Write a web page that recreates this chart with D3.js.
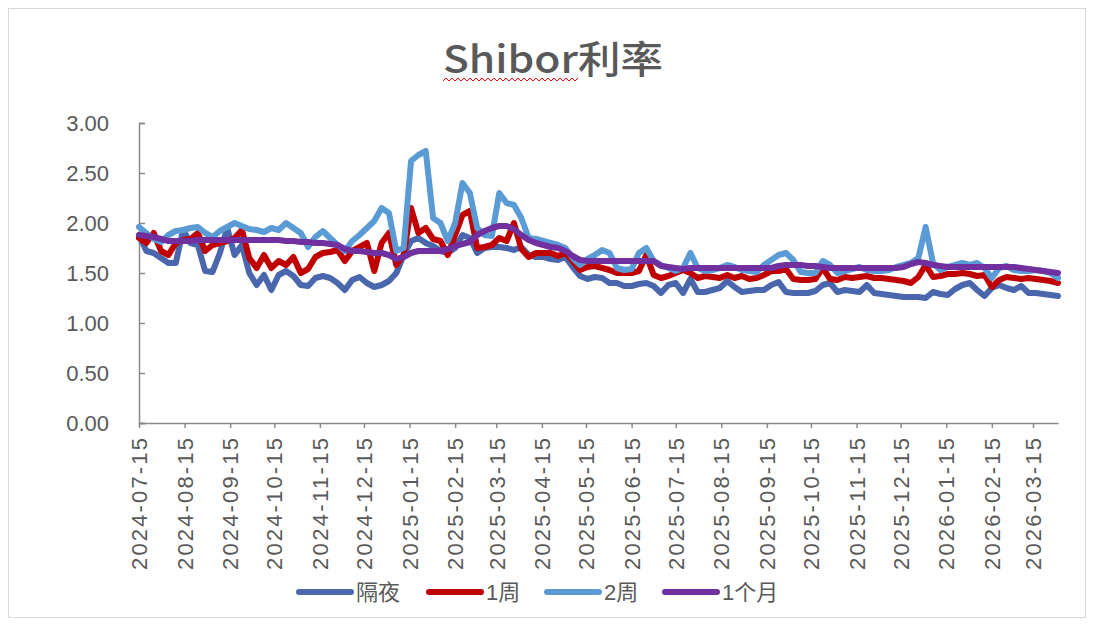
<!DOCTYPE html>
<html>
<head>
<meta charset="utf-8">
<script src="https://cdn.jsdelivr.net/npm/d3@7"></script>
<style>
  body { margin: 0; background: #fff; }
  text { fill: #595959; }
</style>
</head>
<body>
<div id="chart"></div>
<script>
const seriesNames = ["隔夜", "1周", "2周", "1个月"];
const seriesColors = ["#4A67AE", "#C00000", "#5B9BD5", "#7030A0"];

// one reading every 5 days starting 2024-07-15
const startDate = "2024-07-15";
const stepDays = 5;

const overnight = [
  1.88, 1.72, 1.70, 1.65, 1.60, 1.60, 1.93, 1.80, 1.78, 1.52,
  1.51, 1.70, 1.95, 1.68, 1.78, 1.50, 1.38, 1.48, 1.33, 1.48,
  1.52, 1.47, 1.38, 1.37, 1.45, 1.47, 1.45, 1.40, 1.33, 1.43,
  1.46, 1.40, 1.36, 1.38, 1.42, 1.50, 1.68, 1.82, 1.85, 1.80,
  1.77, 1.72, 1.70, 1.75, 1.88, 1.85, 1.70, 1.75, 1.76, 1.76,
  1.75, 1.73, 1.76, 1.68, 1.66, 1.66, 1.64, 1.63, 1.66, 1.56,
  1.47, 1.44, 1.46, 1.45, 1.40, 1.40, 1.37, 1.37, 1.39, 1.40,
  1.37, 1.30, 1.38, 1.40, 1.30, 1.44, 1.31, 1.31, 1.33, 1.35,
  1.42, 1.36, 1.31, 1.32, 1.33, 1.33, 1.38, 1.41, 1.31, 1.30,
  1.30, 1.30, 1.32, 1.38, 1.40, 1.31, 1.33, 1.32, 1.31, 1.38,
  1.30, 1.29, 1.28, 1.27, 1.26, 1.26, 1.26, 1.25, 1.31, 1.29,
  1.28, 1.34, 1.38, 1.40, 1.33, 1.27, 1.35, 1.38, 1.35, 1.33,
  1.37, 1.30, 1.30, 1.29, 1.28, 1.27
];

const week1 = [
  1.85, 1.80, 1.90, 1.72, 1.68, 1.80, 1.83, 1.84, 1.90, 1.72,
  1.78, 1.80, 1.82, 1.85, 1.93, 1.65, 1.55, 1.68, 1.55, 1.62,
  1.58, 1.66, 1.50, 1.54, 1.66, 1.70, 1.71, 1.73, 1.62, 1.72,
  1.76, 1.80, 1.52, 1.80, 1.90, 1.58, 1.68, 2.15, 1.90, 1.95,
  1.84, 1.82, 1.68, 1.88, 2.08, 2.12, 1.75, 1.76, 1.78, 1.85,
  1.82, 2.00, 1.74, 1.66, 1.70, 1.70, 1.70, 1.67, 1.70, 1.62,
  1.53, 1.56, 1.57, 1.55, 1.53, 1.50, 1.50, 1.50, 1.52, 1.68,
  1.48, 1.45, 1.47, 1.50, 1.53, 1.50, 1.45, 1.47, 1.46, 1.45,
  1.48, 1.45, 1.47, 1.44, 1.45, 1.48, 1.52, 1.52, 1.54, 1.44,
  1.43, 1.43, 1.44, 1.55, 1.44, 1.43, 1.46, 1.45, 1.46, 1.47,
  1.45, 1.45, 1.44, 1.43, 1.42, 1.40, 1.46, 1.58, 1.46, 1.47,
  1.49, 1.49, 1.50, 1.49, 1.47, 1.48, 1.36, 1.43, 1.46, 1.45,
  1.44, 1.45, 1.44, 1.43, 1.42, 1.40
];

const week2 = [
  1.96, 1.90, 1.84, 1.81, 1.88, 1.92, 1.93, 1.95, 1.96, 1.90,
  1.86, 1.92, 1.96, 2.00, 1.97, 1.94, 1.93, 1.91, 1.95, 1.93,
  2.00, 1.95, 1.90, 1.76, 1.86, 1.92, 1.85, 1.78, 1.72, 1.82,
  1.88, 1.95, 2.02, 2.15, 2.10, 1.72, 1.75, 2.62, 2.68, 2.72,
  2.05, 2.00, 1.82, 2.00, 2.40, 2.30, 1.95, 1.88, 1.87, 2.30,
  2.20, 2.18, 2.05, 1.85, 1.84, 1.82, 1.80, 1.78, 1.75, 1.65,
  1.58, 1.64, 1.68, 1.73, 1.70, 1.55, 1.53, 1.54, 1.70, 1.75,
  1.62, 1.58, 1.55, 1.52, 1.55, 1.70, 1.55, 1.52, 1.53, 1.55,
  1.58, 1.56, 1.53, 1.52, 1.51, 1.58, 1.63, 1.68, 1.70, 1.63,
  1.51, 1.50, 1.50, 1.62, 1.58, 1.50, 1.52, 1.54, 1.56, 1.53,
  1.52, 1.52, 1.53, 1.56, 1.58, 1.60, 1.65, 1.96, 1.60, 1.53,
  1.56, 1.58, 1.60, 1.58, 1.60, 1.55, 1.45, 1.55, 1.57, 1.53,
  1.52, 1.52, 1.53, 1.52, 1.50, 1.45
];

const month1 = [
  1.88, 1.87, 1.86, 1.84, 1.82, 1.82, 1.82, 1.82, 1.83, 1.83,
  1.83, 1.83, 1.83, 1.83, 1.83, 1.83, 1.83, 1.83, 1.83, 1.83,
  1.82, 1.82, 1.81, 1.81, 1.80, 1.80, 1.79, 1.78, 1.74, 1.72,
  1.72, 1.71, 1.70, 1.70, 1.68, 1.64, 1.66, 1.70, 1.72, 1.72,
  1.72, 1.72, 1.74, 1.77, 1.79, 1.81, 1.88, 1.92, 1.95, 1.97,
  1.97, 1.94, 1.88, 1.83, 1.80, 1.78, 1.76, 1.75, 1.72, 1.67,
  1.63, 1.62, 1.62, 1.62, 1.62, 1.62, 1.62, 1.62, 1.62, 1.62,
  1.62, 1.57, 1.56, 1.55, 1.54, 1.55, 1.55, 1.55, 1.55, 1.55,
  1.55, 1.55, 1.55, 1.55, 1.55, 1.55, 1.55, 1.57, 1.58, 1.58,
  1.58, 1.57, 1.57, 1.56, 1.55, 1.55, 1.55, 1.55, 1.55, 1.55,
  1.55, 1.55, 1.55, 1.55, 1.56, 1.59, 1.61, 1.60, 1.58, 1.57,
  1.56, 1.56, 1.56, 1.56, 1.56, 1.56, 1.56, 1.56, 1.56, 1.56,
  1.55, 1.54, 1.53, 1.52, 1.51, 1.50
];

const yTicks = [0, 0.5, 1, 1.5, 2, 2.5, 3];

const width = 1094;
const height = 626;
const margin = { left: 139, right: 1058, top: 123, bottom: 423 };

const parse = d3.utcParse("%Y-%m-%d");
const start = parse(startDate);
const dates = overnight.map((_, i) => d3.utcDay.offset(start, i * stepDays));
const allSeries = [overnight, week1, week2, month1];

const x = d3.scaleUtc()
  .domain([start, parse("2026-04-01")])
  .range([margin.left, margin.right]);

const y = d3.scaleLinear()
  .domain([0, 3])
  .range([margin.bottom, margin.top]);

const svg = d3.select("#chart")
  .append("svg")
  .attr("width", width)
  .attr("height", height)
  .style("font-family", "'Liberation Sans', 'Noto Sans CJK SC', sans-serif");

svg.append("rect")
  .attr("x", 8.5).attr("y", 8.5)
  .attr("width", 1077).attr("height", 609)
  .attr("fill", "#fff")
  .attr("stroke", "#D9D9D9");

// title
svg.append("text")
  .attr("x", 443)
  .attr("y", 73)
  .attr("textLength", 220)
  .attr("lengthAdjust", "spacingAndGlyphs")
  .style("font-family", "'Noto Sans CJK SC', sans-serif")
  .style("font-weight", 500)
  .style("font-size", "38px")
  .text("Shibor利率");

const wave = d3.range(443, 581, 3).map((px, i) => [px, i % 2 ? 78 : 81]);
svg.append("path")
  .attr("d", d3.line()(wave))
  .attr("fill", "none")
  .attr("stroke", "#FF0000")
  .attr("stroke-width", 1);

// y axis
const yAxis = svg.append("g")
  .attr("transform", `translate(${margin.left},0)`)
  .call(d3.axisLeft(y).tickValues(yTicks).tickFormat(d3.format(".2f")).tickSize(-6).tickPadding(30));
yAxis.select(".domain").attr("stroke", "#898989").attr("stroke-width", 1.5);
yAxis.selectAll(".tick line").attr("stroke", "#898989").attr("stroke-width", 1.5);
yAxis.selectAll(".tick text")
  .style("font-size", "22px")
  .style("fill", "#595959");

// x axis
const monthTicks = d3.utcMonth.range(Date.UTC(2024, 6, 1), Date.UTC(2026, 3, 1))
  .map(d => d3.utcDay.offset(d, 14));

const xAxis = svg.append("g")
  .attr("transform", `translate(0,${margin.bottom})`)
  .call(d3.axisBottom(x).tickValues(monthTicks).tickFormat(d3.utcFormat("%Y-%m-%d")).tickSize(5).tickSizeOuter(0));
xAxis.select(".domain").attr("stroke", "#898989").attr("stroke-width", 1.5);
xAxis.selectAll(".tick line").attr("stroke", "#898989").attr("stroke-width", 1.5);
xAxis.selectAll(".tick text")
  .attr("transform", "rotate(-90)")
  .attr("x", -15)
  .attr("y", 0)
  .attr("dy", "0.35em")
  .attr("text-anchor", "end")
  .attr("textLength", 132)
  .attr("lengthAdjust", "spacing")
  .style("font-size", "22px")
  .style("fill", "#595959");

// lines
const line = d3.line()
  .x((d, i) => x(dates[i]))
  .y(d => y(d));

svg.append("g")
  .selectAll("path")
  .data(allSeries)
  .enter()
  .append("path")
  .attr("d", line)
  .attr("fill", "none")
  .attr("stroke", (d, i) => seriesColors[i])
  .attr("stroke-width", 6)
  .attr("stroke-linejoin", "round")
  .attr("stroke-linecap", "round");

// legend
const legendX = [299, 429, 547, 665];
const legend = svg.append("g")
  .selectAll("g")
  .data(seriesNames)
  .enter()
  .append("g")
  .attr("transform", (d, i) => `translate(${legendX[i]},592)`);

legend.append("line")
  .attr("x1", 0).attr("x2", 52)
  .attr("stroke", (d, i) => seriesColors[i])
  .attr("stroke-width", 6)
  .attr("stroke-linecap", "round");

legend.append("text")
  .attr("x", 57)
  .attr("dy", "0.35em")
  .style("font-size", "22px")
  .style("fill", "#595959")
  .text(d => d);
</script>
</body>
</html>
